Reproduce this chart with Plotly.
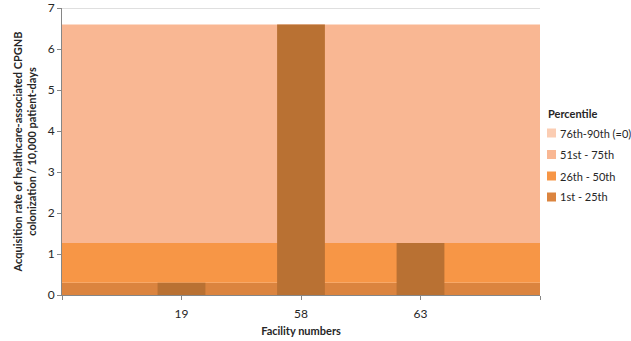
import plotly.graph_objects as go

facilities = ["19", "58", "63"]
rates = [0.3, 6.6, 1.27]

band_labels = ["1st - 25th", "26th - 50th", "51st - 75th", "76th-90th (=0)"]
band_upper = [0.3, 1.27, 6.6, 6.6]
band_colors = ["#DB843F", "#F79646", "#F9B793", "#FBCDB3"]
bar_color = "#B97133"

FONT = "Lato"
W, H = 631, 341
ML, MR, MT, MB = 62, 91, 8, 46
PW, PH = W - ML - MR, H - MT - MB

def px_x(p):
    return (p - ML) / PW

def px_y(p):
    return (H - MB - p) / PH

fig = go.Figure()

lower = 0.0
for lab, up, col in zip(band_labels, band_upper, band_colors):
    fig.add_trace(go.Bar(x=[1], y=[up - lower], base=[lower], width=[4], name=lab,
                         marker=dict(color=col, line=dict(width=0)), hoverinfo="skip",
                         showlegend=False))
    lower = up

fig.add_trace(go.Bar(x=list(range(len(facilities))), y=rates, width=0.4,
                     marker=dict(color=bar_color, line=dict(width=0)),
                     showlegend=False, name="Rate"))

fig.add_shape(type="line", xref="paper", yref="y", x0=0, x1=1, y0=7, y1=7,
              line=dict(color="#BFBFBF", width=1))

# legend (drawn manually to match layout)
fig.add_annotation(xref="paper", yref="paper", x=px_x(546), y=px_y(113),
                   xanchor="left", yanchor="middle", showarrow=False,
                   text="<b>Percentile</b>", font=dict(size=11, color="#262626"))
row_y = [197, 176, 154.5, 133]
for lab, col, yy in zip(band_labels, band_colors, row_y):
    fig.add_shape(type="rect", xref="paper", yref="paper",
                  x0=px_x(547), x1=px_x(556), y0=px_y(yy + 4.5), y1=px_y(yy - 4.5),
                  fillcolor=col, line=dict(width=0))
    fig.add_annotation(xref="paper", yref="paper", x=px_x(558), y=px_y(yy),
                       xanchor="left", yanchor="middle", showarrow=False,
                       text=lab, font=dict(size=11, color="#262626"))

fig.update_layout(
    width=W, height=H,
    margin=dict(l=ML, r=MR, t=MT, b=MB, autoexpand=False),
    barmode="overlay",
    showlegend=False,
    plot_bgcolor="white", paper_bgcolor="white",
    font=dict(family=FONT, size=12, color="#262626"),
    xaxis=dict(range=[-1, 3], tickvals=[-1, 0, 1, 2, 3],
               ticktext=["", *facilities, ""],
               showgrid=False, zeroline=False, showline=True, linecolor="#868686",
               ticks="outside", ticklen=4, tickcolor="#868686",
               tickfont=dict(size=12), ticklabelstandoff=4,
               title=dict(text="<b>Facility numbers</b>", standoff=6, font=dict(size=11))),
    yaxis=dict(range=[0, 7], dtick=1, showgrid=False, zeroline=False,
               showline=True, linecolor="#868686", ticks="outside", ticklen=4,
               tickcolor="#868686", tickfont=dict(size=12),
               title=dict(text="<b>Acquisition rate of healthcare-associated CPGNB<br>colonization / 10,000 patient-days</b>",
                          standoff=8, font=dict(size=11))),
)

fig.write_html("out.html")
